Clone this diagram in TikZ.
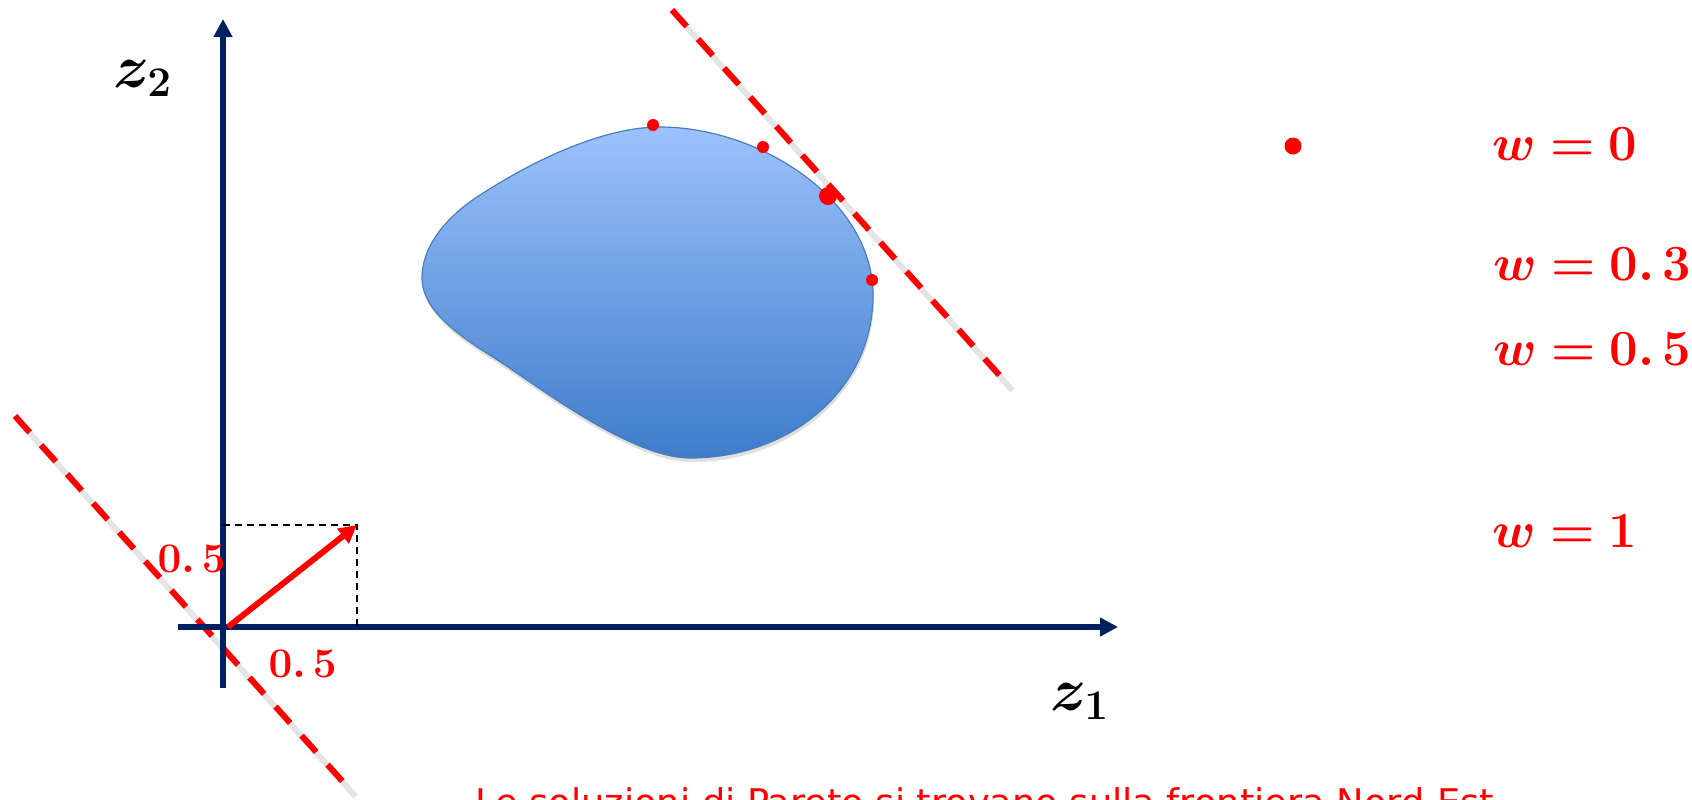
\documentclass[tikz,border=0pt]{standalone}
\usepackage{amsmath,amssymb}
\usepackage{bm}
\usepackage{xcolor}
\usepackage{fontspec}
\newfontfamily\notefont{DejaVu Sans}
\usetikzlibrary{arrows.meta,calc}
\definecolor{axisblue}{RGB}{0,32,96}
\definecolor{blobtop}{RGB}{156,194,252}
\definecolor{blobbot}{RGB}{62,124,202}
\definecolor{blobline}{RGB}{74,126,187}

\begin{document}
\begin{tikzpicture}[x=0.01cm, y=-0.01cm,
  axis/.style={draw=axisblue, line width=0.06cm,
               -{Triangle[length=0.18cm, width=0.18cm]}},
  wline/.style={draw=red, line width=0.06cm, dash pattern=on 0.22cm off 0.17cm},
  wshade/.style={draw=black!30, line width=0.06cm, opacity=0.35,
                 transform canvas={shift={(0.025cm,-0.035cm)}}},
  guide/.style={draw=black, line width=0.02cm, dash pattern=on 0.07cm off 0.05cm},
  vec/.style={draw=red, line width=0.06cm,
              -{Triangle[length=0.18cm, width=0.18cm]}},
  sol/.style={fill=red, circle, inner sep=0pt, minimum size=#1},
  num/.style={text=red, inner sep=0pt, anchor=base west,
              font=\fontsize{13}{15}\selectfont},
  wlab/.style={text=red, inner sep=0pt, anchor=base west,
               font=\fontsize{14.5}{17}\selectfont},
  zlab/.style={inner sep=0pt, anchor=base west,
               font=\fontsize{18}{22}\selectfont}]

\clip (0,0) rectangle (1692,799);

\coordinate (O)    at (223,627);
\coordinate (xbeg) at (178,627);
\coordinate (xend) at (1118,627);
\coordinate (ybeg) at (223,688);
\coordinate (yend) at (223,19);
\coordinate (vs)   at (228,627);
\coordinate (v)    at (357,525);
\coordinate (vy)   at (223,525);
\coordinate (vx)   at (357,627);
\coordinate (a1)   at (15,416);
\coordinate (a2)   at (353,793);
\coordinate (b1)   at (672,10);
\coordinate (b2)   at (1010,387);

\def\blob{(422,278) .. controls (422,245) and (448,216) .. (477,197)
  .. controls (527,164) and (600,127) .. (660,127)
  .. controls (760,127) and (873,200) .. (873,295)
  .. controls (873,390) and (790,458) .. (690,458)
  .. controls (630,458) and (535,384) .. (493,357)
  .. controls (459,336) and (422,310) .. (422,278) -- cycle}

\fill[black!25, opacity=0.5, transform canvas={shift={(0.01cm,-0.04cm)}}] \blob;
\path[draw=blobline, line width=0.012cm, top color=blobtop, bottom color=blobbot]
  \blob;

\draw[wshade] (a1) -- (a2);
\draw[wshade] (b1) -- (b2);
\draw[wline] (a1) -- (a2);
\draw[wline] (b1) -- (b2);

\draw[axis] (xbeg) -- (xend);
\draw[axis] (ybeg) -- (yend);
\draw[guide] (vy) -- (v) -- (vx);
\draw[vec] (vs) -- (v);

\foreach \x/\y/\d [count=\i] in {653/125/0.12cm, 763/147/0.12cm,
                                 872/280/0.12cm, 828/196/0.18cm}
  \node[sol=\d] (s\i) at (\x,\y) {};
\node[sol=0.17cm] (key) at (1293,146) {};

\node[zlab] (z2) at (113,87)  {$\bm{z}_{\bm{2}}$};
\node[zlab] (z1) at (1050,710) {$\bm{z}_{\bm{1}}$};
\node[num] (hy) at (157,572) {$\bm{0.\,5}$};
\node[num] (hx) at (268,677) {$\bm{0.\,5}$};

\node[wlab] (w0) at (1492,160) {$\bm{w=0}$};
\node[wlab] (w3) at (1493,280) {$\bm{w=0.\,3}$};
\node[wlab] (w5) at (1493,365) {$\bm{w=0.\,5}$};
\node[wlab] (w1) at (1492,547) {$\bm{w=1}$};

\node[text=red, inner sep=0pt, anchor=base west,
      font=\notefont\fontsize{10.45}{12}\selectfont] (note) at (475,815)
  {Le soluzioni di Pareto si trovano sulla frontiera Nord-Est};
\end{tikzpicture}
\end{document}
